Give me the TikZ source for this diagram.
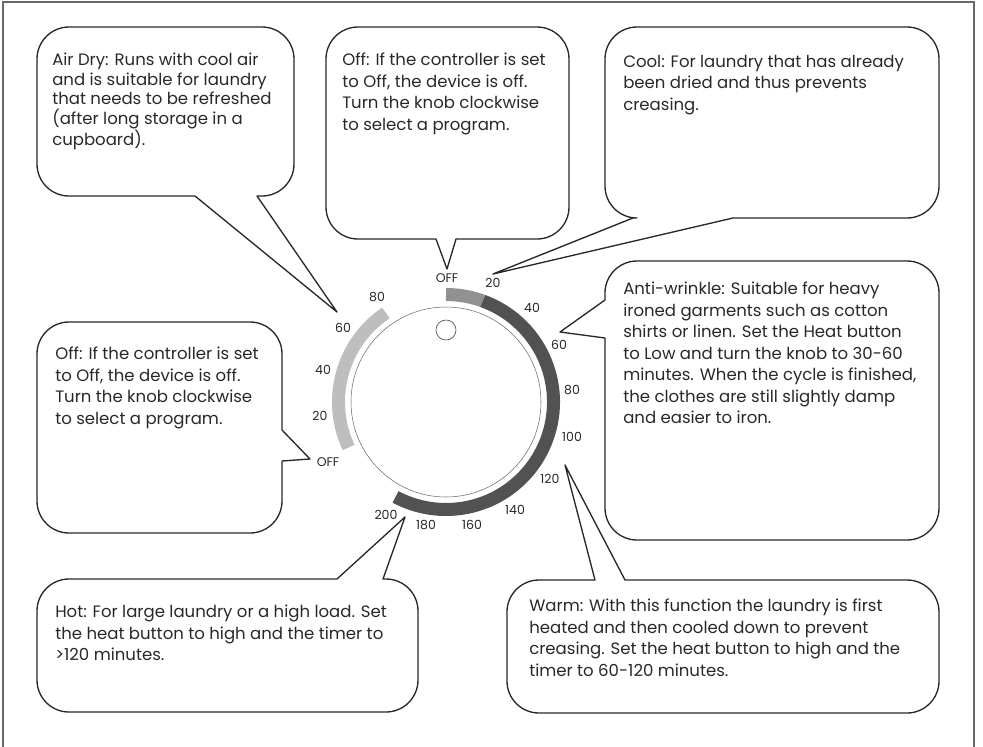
\documentclass[tikz,border=0pt]{standalone}
\usepackage{fontspec}
\setmainfont{Poppins}
\usetikzlibrary{calc}
\definecolor{framegray}{RGB}{105,105,105}
\definecolor{lightarc}{RGB}{190,190,190}
\definecolor{midarc}{RGB}{145,145,145}
\definecolor{darkarc}{RGB}{82,82,82}
\definecolor{ink}{RGB}{40,40,40}

\begin{document}
\begin{tikzpicture}[x=0.75pt,y=-0.75pt,
  bubble/.style={draw=ink,line width=1pt,line join=round},
  txt/.style={anchor=north west,align=left,inner sep=0pt,text=ink,font=\fontsize{12.4}{16.1}\selectfont},
  num/.style={inner sep=0pt,text=ink,font=\fontsize{9.4}{10}\selectfont},
  ring/.style={line width=9.75pt}]
\useasboundingbox(0,0)rectangle(983,747);
\draw[framegray,line width=1.5pt](3,747)--(3,2)--(974,2)--(974,747);
% dial
\coordinate(c)at(446,402);
\draw[ink!70,line width=0.4pt](c)circle(95);
\draw[ring,lightarc]($(c)+(-124:107.5)$)arc(-124:-205:107.5);
\draw[ring,midarc]($(c)+(-90:107.5)$)arc(-90:-70:107.5);
\draw[ring,darkarc]($(c)+(-70:107.5)$)arc(-70:118:107.5);
\draw[ink!80,line width=0.5pt](446,330)circle(10);
\node[num](offa)at(447,278){OFF};\node[num](r20)at(493,283){20};\node[num](r40)at(532,308){40};\node[num](r60)at(559,345){60};
\node[num](r80)at(572,390){80};\node[num](r100)at(572,437){100};\node[num](r120)at(550,479){120};\node[num](r140)at(515,510){140};
\node[num](r160)at(472,525){160};\node[num](r180)at(426,525){180};\node[num](r200)at(386,515){200};
\node[num](l80)at(377,297){80};\node[num](l60)at(343,328){60};\node[num](l40)at(323,370){40};\node[num](l20)at(320,416){20};\node[num](offb)at(328,462){OFF};
% callout tips
\coordinate(tipA)at(337,312);\coordinate(tipB)at(447,269);\coordinate(tipC)at(493,274);\coordinate(tipD)at(560,332);
\coordinate(tipE)at(310,459);\coordinate(tipF)at(405,517);\coordinate(tipG)at(565,465);
% callouts
\draw[bubble](tipA)--(257,196)[rounded corners=24]--(294,196)--(294,27)--(37,27)--(37,196)[sharp corners]--(195,196)--cycle;
\draw[bubble](tipB)--(456,239)[rounded corners=24]--(569,239)--(569,27)--(326,27)--(326,239)[sharp corners]--(436,239)--cycle;
\draw[bubble](tipC)--(733,218)[rounded corners=24]--(939,218)--(939,27)--(605,27)--(605,218)[sharp corners]--(633,218)--cycle;
\draw[bubble](tipD)--(605,338)[rounded corners=24]--(605,540)--(939,540)--(939,261)--(605,261)[sharp corners]--(605,300)--cycle;
\draw[bubble](tipE)--(282,430)[rounded corners=24]--(282,322)--(37,322)--(37,533)--(282,533)[sharp corners]--(282,461)--cycle;
\draw[bubble](tipF)--(383,579)[rounded corners=24]--(418,579)--(418,712)--(37,712)--(37,579)[sharp corners]--(337,579)--cycle;
\draw[bubble](tipG)--(625,580)[rounded corners=24]--(939,580)--(939,713)--(507,713)--(507,580)[sharp corners]--(595,580)--cycle;
% texts
\node[txt,font=\fontsize{12.4}{14.6}\selectfont](airdry)at(52,53){Air Dry: Runs with cool air\\and is suitable for laundry\\that needs to be refreshed\\(after long storage in a\\cupboard).};
\node[txt](offtop)at(342,53){Off: If the controller is set\\to Off, the device is off.\\Turn the knob clockwise\\to select a program.};
\node[txt](cool)at(623,55){Cool: For laundry that has already\\been dried and thus prevents\\creasing.};
\node[txt](antiwrinkle)at(623,282){Anti-wrinkle: Suitable for heavy\\ironed garments such as cotton\\shirts or linen. Set the Heat button\\to Low and turn the knob to 30-60\\minutes. When the cycle is finished,\\the clothes are still slightly damp\\and easier to iron.};
\node[txt](offleft)at(55,347){Off: If the controller is set\\to Off, the device is off.\\Turn the knob clockwise\\to select a program.};
\node[txt](hot)at(55,605){Hot: For large laundry or a high load. Set\\the heat button to high and the timer to\\>120 minutes.};
\node[txt](warm)at(529,599){Warm: With this function the laundry is first\\heated and then cooled down to prevent\\creasing. Set the heat button to high and the\\timer to 60-120 minutes.};
\end{tikzpicture}
\end{document}
